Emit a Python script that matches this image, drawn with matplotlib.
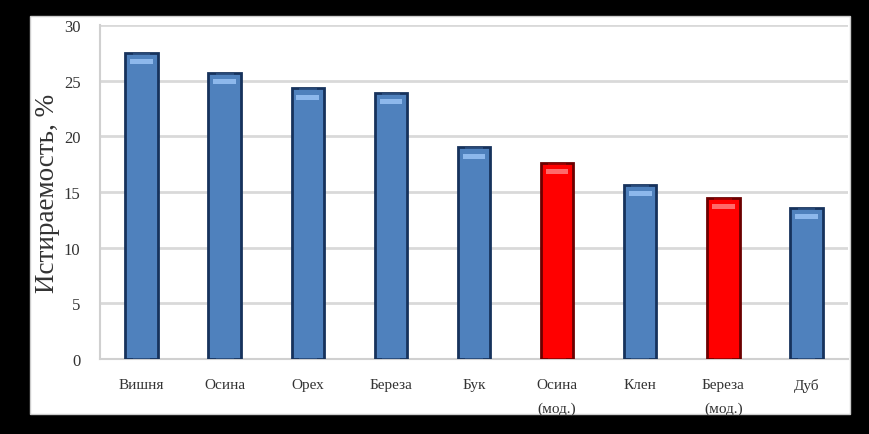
import matplotlib.pyplot as plt
from matplotlib.patches import Rectangle
import numpy as np

plt.rcParams['font.family'] = ['Liberation Serif', 'DejaVu Serif']

species = ['Вишня', 'Осина', 'Орех', 'Береза', 'Бук', 'Осина\n(мод.)',
           'Клен', 'Береза\n(мод.)', 'Дуб']
wear = [27.5, 25.7, 24.3, 23.9, 19.0, 17.6, 15.6, 14.5, 13.6]
modified = [0, 0, 0, 0, 0, 1, 0, 1, 0]

fig = plt.figure(figsize=(8.7, 4.35), dpi=100)
fig.patch.set_facecolor('black')
# white chart area inside the black frame
frame = Rectangle((30 / 870, 20 / 435), 820 / 870, 398 / 435,
                  transform=fig.transFigure, facecolor='white',
                  edgecolor='#cccccc', linewidth=1, zorder=-10)
fig.add_artist(frame)

ax = fig.add_axes([100 / 870, 75 / 435, 748 / 870, 334 / 435])
ax.set_facecolor('white')
ax.set_zorder(1)

x = np.arange(len(species))
w = 0.39
face = ['#FF0000' if m else '#4F81BD' for m in modified]
edge = ['#6B0000' if m else '#16325C' for m in modified]
hi = ['#FF6A6A' if m else '#8DB8EC' for m in modified]

ax.bar(x, wear, width=w, color=face, edgecolor=edge, linewidth=2, zorder=3)
# inner lighter stripe and top highlight for the bevel look
ax.bar(x, wear, width=w * 0.55, color=face, alpha=0.3,
       edgecolor='none', zorder=4)
ax.bar(x, [0.45] * len(x), bottom=np.array(wear) - 1.0, width=w * 0.7,
       color=hi, edgecolor='none', zorder=5)

ax.set_xlim(-0.5, len(species) - 0.5)
ax.set_ylim(0, 30)
ax.set_yticks(range(0, 31, 5))
ax.set_xticks(x)
ax.set_xticklabels(species, fontsize=11, color='#333333', linespacing=2.0)
ax.tick_params(axis='y', labelsize=12, colors='#333333', length=0, pad=14)
ax.tick_params(axis='x', length=0, pad=14)

ax.yaxis.grid(True, color='#d9d9d9', linewidth=2)
ax.set_axisbelow(True)
for s in ['top', 'right']:
    ax.spines[s].set_visible(False)
ax.spines['left'].set_color('#d0d0d0')
ax.spines['bottom'].set_color('#d0d0d0')
ax.spines['left'].set_linewidth(1.5)
ax.spines['bottom'].set_linewidth(1.5)

ax.set_ylabel('Истираемость, %', fontsize=19.5, color='#333333')
ax.yaxis.set_label_coords(-0.053, 0.5)

plt.savefig('out.png', dpi=100, facecolor=fig.get_facecolor())
